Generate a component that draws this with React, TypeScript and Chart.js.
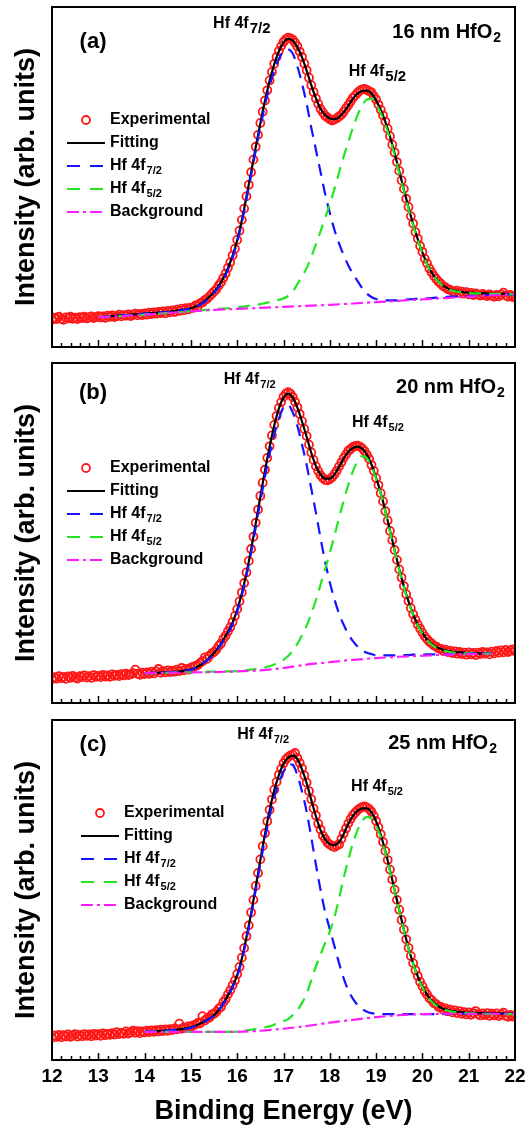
import { useEffect, useRef } from "react";
import { Chart, registerables } from "chart.js";

Chart.register(...registerables);

const FONT = '"Liberation Sans", Arial, Helvetica, sans-serif';

// ---------- axis ----------
const X_MIN = 12;
const X_MAX = 22;
const X_TICKS = [12, 13, 14, 15, 16, 17, 18, 19, 20, 21, 22];
const MINOR_STEP = 0.2;
const Y_MIN = 0;
const Y_MAX = 100;

// ---------- sampling of the series ----------
const EXP_START = 12;
const EXP_STEP = 0.05;
const FIT_STEP = 0.1;
const BG_STEP = 0.5;

const LABEL_EXP = "Experimental";
const LABEL_FIT = "Fitting";
const LABEL_P72 = "Hf 4f_7/2";
const LABEL_P52 = "Hf 4f_5/2";
const LABEL_BG = "Background";

// ---------- panel (a) 16 nm ----------
const A_EXP = [
  8.0, 8.6, 8.2, 8.9, 8.3, 8.0, 8.7, 8.4, 8.9, 8.3, 8.6, 8.2, 8.8, 8.5, 8.9, 8.4, 8.7, 9.0, 8.5, 8.8,
  9.1, 8.7, 9.0, 8.6, 9.2, 8.9, 9.3, 8.8, 9.1, 9.5, 9.0, 9.4, 9.2, 9.6, 9.1, 9.5, 9.8, 9.3, 9.7, 9.4,
  9.9, 9.5, 10.1, 9.7, 10.2, 9.8, 10.3, 10.0, 10.5, 9.9, 10.6, 10.2, 10.8, 10.3, 11.0, 10.6, 11.3, 10.8, 11.4, 11.1,
  11.6, 11.5, 12.2, 12.0, 12.9, 13.1, 13.8, 14.2, 14.9, 15.6, 16.3, 17.0, 18.1, 19.0, 20.3, 21.6, 23.3, 24.9, 26.9, 28.9,
  31.5, 34.2, 37.4, 40.7, 44.3, 47.7, 51.4, 55.1, 58.9, 62.4, 65.9, 69.2, 72.5, 75.5, 78.4, 80.9, 83.3, 85.3, 87.1, 88.5,
  89.7, 90.5, 91.0, 90.8, 90.4, 89.5, 88.4, 86.9, 85.3, 83.4, 81.4, 79.2, 77.0, 75.0, 73.1, 71.5, 70.0, 69.0, 68.0, 67.5,
  67.0, 66.6, 66.9, 67.3, 67.8, 68.3, 69.2, 70.2, 71.2, 72.2, 73.3, 74.0, 74.8, 75.4, 75.8, 75.9, 75.6, 75.2, 74.9, 73.8,
  72.8, 71.3, 69.8, 68.1, 66.3, 64.2, 62.0, 59.5, 57.2, 54.4, 51.8, 49.0, 46.5, 43.6, 41.2, 38.5, 36.3, 33.8, 31.9, 29.7,
  28.0, 26.0, 24.6, 23.1, 22.0, 20.9, 20.0, 19.2, 18.6, 17.9, 17.5, 17.0, 16.8, 16.4, 16.1, 16.6, 15.9, 16.3, 15.7, 16.1,
  15.5, 15.9, 15.3, 15.8, 15.4, 15.1, 15.6, 15.2, 15.0, 15.5, 15.1, 14.8, 15.3, 14.9, 15.4, 16.0, 15.2, 14.8, 15.3, 14.7,
  15.0,
];
const A_FIT_START = 13;
const A_FIT = [
  8.8, 8.9, 9.0, 9.1, 9.2, 9.3, 9.4, 9.5, 9.6, 9.7,
  9.8, 9.9, 10.0, 10.1, 10.2, 10.3, 10.5, 10.7, 10.9, 11.1,
  11.4, 11.9, 12.6, 13.6, 14.8, 16.2, 18.0, 20.2, 23.2, 26.8,
  31.4, 37.3, 44.2, 51.3, 58.8, 65.8, 72.4, 78.3, 83.2, 87.0,
  89.5, 90.6, 90.1, 88.2, 85.2, 81.3, 77.0, 73.1, 70.1, 68.2,
  67.2, 67.0, 67.6, 69.0, 71.0, 73.0, 74.5, 75.3, 75.4, 74.6,
  72.6, 69.7, 66.2, 61.9, 57.0, 51.7, 46.3, 41.0, 36.1, 31.7,
  27.8, 24.4, 21.9, 20.0, 18.6, 17.6, 16.9, 16.5, 16.3, 16.1,
  16.0, 15.9, 15.8, 15.8, 15.7, 15.7, 15.6, 15.6, 15.6, 15.5,
  15.5,
];
const A_P72 = [
  8.8, 8.9, 9.0, 9.1, 9.2, 9.3, 9.4, 9.5, 9.6, 9.7,
  9.8, 9.9, 10.0, 10.1, 10.2, 10.3, 10.4, 10.6, 10.8, 11.0,
  11.2, 11.7, 12.4, 13.3, 14.5, 15.9, 17.6, 19.8, 22.7, 26.3,
  30.8, 36.6, 43.4, 50.5, 57.8, 64.7, 71.1, 76.7, 81.3, 84.8,
  86.9, 87.5, 86.3, 82.5, 77.5, 71.5, 64.5, 58.0, 51.5, 45.0,
  39.5, 34.5, 30.5, 27.0, 24.0, 21.6, 19.4, 17.3, 15.7, 14.7,
  14.1, 13.8, 13.7, 13.7, 13.7, 13.8, 13.9, 14.0, 14.1, 14.2,
  14.3, 14.3, 14.4, 14.5, 14.6, 14.7, 14.8, 14.8, 14.9, 15.0,
  15.0, 15.1, 15.2, 15.2, 15.3, 15.3, 15.4, 15.4, 15.5, 15.5,
  15.5,
];
const A_P52 = [
  8.8, 8.9, 8.9, 9.0, 9.1, 9.1, 9.2, 9.3, 9.4, 9.4,
  9.5, 9.6, 9.7, 9.8, 9.9, 10.0, 10.1, 10.2, 10.3, 10.4,
  10.6, 10.7, 10.8, 10.9, 11.0, 11.1, 11.2, 11.3, 11.4, 11.5,
  11.6, 11.8, 12.0, 12.2, 12.4, 12.6, 12.9, 13.2, 13.5, 13.9,
  14.3, 15.0, 16.3, 18.5, 20.8, 23.2, 26.5, 30.2, 34.0, 38.0,
  42.0, 46.5, 51.3, 56.0, 60.3, 64.5, 68.2, 71.0, 72.8, 73.0,
  71.5, 68.8, 65.4, 61.2, 56.4, 51.2, 45.9, 40.6, 35.8, 31.4,
  27.6, 24.3, 21.8, 19.9, 18.5, 17.5, 16.8, 16.4, 16.2, 16.0,
  15.9, 15.8, 15.8, 15.7, 15.7, 15.6, 15.6, 15.6, 15.5, 15.5,
  15.5,
];
const A_BG = [8.8, 9.1, 9.5, 10.0, 10.5, 10.9, 11.2, 11.5, 11.8, 12.1, 12.4, 12.8, 13.2, 13.6, 14.0, 14.4, 14.8, 15.2, 15.5];

// ---------- panel (b) 20 nm ----------
const B_EXP = [
  7.0, 7.6, 7.2, 7.9, 7.3, 7.7, 7.1, 7.8, 7.4, 8.0, 7.5, 7.2, 7.9, 7.6, 8.1, 7.5, 7.9, 7.4, 8.2, 7.7,
  8.0, 7.6, 8.3, 7.8, 8.1, 7.7, 8.4, 8.0, 8.3, 7.9, 8.5, 8.1, 8.6, 8.2, 8.4, 8.8, 9.8, 8.6, 8.3, 8.9,
  8.5, 9.0, 8.6, 9.2, 8.7, 9.3, 10.0, 8.9, 9.4, 9.0, 9.6, 9.1, 9.5, 9.2, 9.8, 9.4, 10.3, 9.6, 10.0, 9.8,
  10.4, 10.6, 10.9, 11.2, 11.8, 12.3, 13.4, 13.0, 13.9, 14.6, 15.0, 15.7, 16.8, 17.5, 18.9, 19.8, 21.1, 22.3, 23.8, 25.6,
  27.6, 29.9, 32.5, 35.3, 38.4, 41.8, 45.3, 48.9, 53.0, 56.9, 60.9, 64.8, 68.6, 72.1, 75.5, 78.7, 81.8, 84.4, 86.8, 88.5,
  90.1, 91.0, 91.4, 91.0, 90.0, 88.6, 87.0, 85.0, 82.9, 80.6, 78.5, 76.0, 73.7, 71.5, 69.6, 68.2, 67.0, 66.2, 65.6, 65.5,
  65.8, 66.4, 67.3, 68.3, 69.6, 70.8, 72.1, 73.1, 74.2, 74.7, 75.3, 75.6, 75.7, 75.4, 74.9, 74.1, 73.0, 71.8, 70.0, 68.3,
  66.2, 64.1, 61.7, 59.3, 56.4, 53.7, 50.6, 47.9, 45.0, 42.1, 39.3, 36.9, 34.4, 32.0, 30.0, 27.9, 26.1, 24.5, 23.1, 21.9,
  20.7, 19.6, 18.8, 18.0, 17.5, 16.9, 16.6, 16.0, 15.9, 15.3, 15.7, 15.0, 15.4, 14.7, 15.2, 14.5, 15.0, 14.4, 14.8, 14.2,
  14.9, 14.3, 14.7, 14.1, 14.8, 14.4, 15.0, 14.5, 14.9, 14.3, 15.1, 14.6, 15.3, 14.8, 15.5, 14.9, 15.6, 15.0, 15.4, 15.8,
  15.2,
];
const B_FIT_START = 14;
const B_FIT = [
  8.8, 8.8, 8.9, 8.9, 9.0, 9.0, 9.1, 9.2, 9.4, 9.6,
  9.9, 10.4, 11.1, 12.1, 13.3, 14.7, 16.5, 18.6, 20.9, 23.6,
  27.4, 32.3, 38.2, 45.1, 52.8, 60.7, 68.4, 75.3, 81.6, 86.6,
  89.8, 91.0, 89.8, 86.9, 82.8, 78.3, 73.6, 69.7, 67.2, 66.0,
  66.0, 67.2, 69.4, 71.9, 73.9, 75.0, 75.4, 74.8, 73.1, 70.2,
  66.3, 61.8, 56.5, 50.7, 45.0, 39.3, 34.3, 29.9, 26.0, 23.0,
  20.6, 18.7, 17.4, 16.5, 15.9, 15.5, 15.2, 15.0, 14.9, 14.8,
  14.7, 14.7, 14.6, 14.6, 14.6, 14.6,
];
const B_P72 = [
  8.8, 8.8, 8.9, 8.9, 9.0, 9.0, 9.1, 9.2, 9.3, 9.5,
  9.8, 10.3, 11.0, 12.0, 13.1, 14.5, 16.2, 18.3, 20.5, 23.1,
  26.8, 31.6, 37.4, 44.1, 51.7, 59.3, 66.6, 73.2, 79.0, 83.6,
  86.9, 87.6, 85.5, 81.5, 76.0, 70.0, 63.0, 56.0, 48.5, 41.5,
  35.5, 30.5, 26.3, 23.0, 20.3, 18.2, 16.6, 15.5, 14.8, 14.4,
  14.0, 14.0, 14.0, 14.0, 14.0, 14.1, 14.1, 14.1, 14.2, 14.2,
  14.2, 14.3, 14.3, 14.3, 14.4, 14.4, 14.4, 14.5, 14.5, 14.5,
  14.5, 14.6, 14.6, 14.6, 14.6, 14.6,
];
const B_P52 = [
  8.8, 8.8, 8.8, 8.9, 8.9, 8.9, 8.9, 9.0, 9.0, 9.0,
  9.0, 9.1, 9.1, 9.1, 9.2, 9.2, 9.2, 9.3, 9.3, 9.3,
  9.4, 9.5, 9.6, 9.8, 10.0, 10.2, 10.5, 10.8, 11.3, 11.9,
  12.7, 13.8, 15.4, 17.4, 19.9, 22.7, 26.2, 30.3, 34.8, 39.4,
  44.2, 49.2, 54.5, 59.5, 64.2, 68.2, 71.2, 72.6, 72.0, 69.6,
  65.9, 61.5, 56.2, 50.4, 44.7, 39.0, 34.0, 29.6, 25.8, 22.8,
  20.4, 18.5, 17.2, 16.3, 15.7, 15.3, 15.0, 14.8, 14.7, 14.6,
  14.6, 14.5, 14.5, 14.5, 14.5, 14.5,
];
const B_BG = [8.8, 8.9, 9.0, 9.1, 9.3, 9.6, 10.3, 11.3, 12.0, 12.7, 13.2, 13.6, 13.9, 14.2, 14.4, 14.5];

// ---------- panel (c) 25 nm ----------
const C_EXP = [
  6.5, 7.2, 6.8, 7.4, 6.7, 7.3, 6.9, 7.5, 6.8, 7.2, 7.6, 6.9, 7.4, 7.0, 7.6, 7.1, 7.5, 7.0, 7.7, 7.2,
  7.6, 7.1, 7.8, 7.3, 7.7, 7.4, 7.9, 7.5, 8.2, 7.6, 8.0, 7.7, 8.4, 7.8, 8.1, 8.6, 8.0, 8.5, 7.9, 8.4,
  8.1, 8.6, 8.2, 8.7, 8.3, 8.8, 8.4, 8.9, 8.5, 9.0, 8.6, 9.1, 8.8, 9.3, 9.0, 10.7, 9.2, 9.6, 9.4, 9.9,
  9.7, 10.2, 10.4, 10.9, 10.8, 12.9, 11.6, 12.2, 12.5, 13.4, 13.6, 14.2, 15.1, 15.6, 17.0, 17.9, 19.3, 20.5, 22.0, 23.4,
  25.3, 27.4, 30.1, 32.9, 36.4, 39.6, 43.4, 47.1, 51.2, 55.0, 59.0, 62.9, 66.7, 70.2, 73.6, 76.6, 79.5, 81.8, 83.9, 85.7,
  87.3, 88.4, 89.1, 89.6, 89.8, 90.3, 88.8, 87.4, 85.8, 83.7, 81.6, 79.1, 76.7, 74.0, 71.9, 69.5, 67.8, 66.0, 65.0, 63.9,
  63.4, 62.9, 62.6, 63.1, 63.4, 65.0, 66.6, 68.1, 69.6, 70.9, 72.0, 72.8, 73.5, 74.0, 74.4, 74.6, 74.3, 73.8, 73.0, 71.8,
  70.3, 68.5, 66.4, 64.1, 61.5, 58.8, 56.0, 53.1, 50.1, 47.1, 44.2, 41.2, 38.4, 35.5, 33.0, 30.6, 28.5, 26.4, 24.7, 23.0,
  21.7, 20.3, 19.3, 18.2, 17.6, 16.7, 16.4, 15.6, 15.6, 14.8, 15.2, 14.3, 14.8, 14.0, 14.6, 13.8, 14.4, 13.6, 14.1, 13.4,
  14.0, 13.3, 13.8, 14.4, 13.5, 13.1, 13.7, 13.2, 13.8, 13.0, 13.6, 13.1, 13.7, 12.9, 13.4, 13.9, 13.0, 12.7, 13.3, 12.8,
  13.1,
];
const C_FIT_START = 14;
const C_FIT = [
  8.3, 8.4, 8.4, 8.5, 8.6, 8.7, 8.8, 8.9, 9.1, 9.3,
  9.6, 10.1, 10.7, 11.4, 12.2, 13.2, 14.7, 16.7, 19.0, 21.7,
  25.0, 29.8, 36.1, 43.1, 50.9, 58.8, 66.5, 73.4, 79.3, 83.8,
  87.1, 88.9, 89.5, 88.5, 85.5, 81.4, 76.5, 71.7, 67.6, 64.9,
  63.5, 63.2, 64.1, 66.5, 69.5, 71.8, 73.3, 74.0, 74.0, 72.8,
  70.2, 66.3, 61.4, 55.9, 50.0, 44.1, 38.3, 32.9, 28.4, 24.6,
  21.6, 19.2, 17.4, 16.2, 15.4, 14.9, 14.5, 14.3, 14.1, 14.0,
  13.9, 13.9, 13.8, 13.8, 13.8, 13.7, 13.7, 13.7, 13.6, 13.6,
  13.6,
];
const C_P72 = [
  8.3, 8.4, 8.4, 8.5, 8.6, 8.7, 8.8, 8.9, 9.0, 9.2,
  9.5, 10.0, 10.6, 11.3, 12.1, 13.1, 14.5, 16.5, 18.7, 21.4,
  24.6, 29.3, 35.5, 42.4, 50.0, 57.7, 65.1, 71.7, 77.2, 81.5,
  84.8, 87.0, 86.8, 83.8, 79.0, 73.0, 65.5, 57.5, 50.0, 43.5,
  38.5, 33.5, 28.5, 24.0, 20.5, 18.0, 16.2, 15.0, 14.2, 13.8,
  13.6, 13.5, 13.5, 13.5, 13.5, 13.5, 13.5, 13.5, 13.5, 13.5,
  13.5, 13.5, 13.5, 13.5, 13.5, 13.5, 13.6, 13.6, 13.6, 13.6,
  13.6, 13.6, 13.6, 13.6, 13.6, 13.6, 13.6, 13.6, 13.6, 13.6,
  13.6,
];
const C_P52 = [
  8.3, 8.3, 8.3, 8.3, 8.3, 8.3, 8.3, 8.3, 8.3, 8.3,
  8.3, 8.3, 8.3, 8.3, 8.3, 8.3, 8.3, 8.3, 8.3, 8.3,
  8.4, 8.5, 8.7, 8.9, 9.1, 9.3, 9.6, 9.9, 10.4, 10.9,
  11.4, 12.0, 13.2, 14.6, 16.8, 19.5, 23.5, 27.5, 31.0, 34.5,
  37.8, 42.0, 47.5, 53.5, 59.0, 63.8, 67.6, 70.3, 71.5, 71.0,
  68.9, 65.6, 61.0, 55.6, 49.8, 43.9, 38.1, 32.7, 28.2, 24.4,
  21.4, 19.0, 17.2, 16.0, 15.2, 14.7, 14.3, 14.1, 13.9, 13.8,
  13.7, 13.7, 13.6, 13.6, 13.6, 13.5, 13.5, 13.5, 13.5, 13.5,
  13.5,
];
const C_BG = [8.3, 8.3, 8.3, 8.3, 8.3, 8.6, 9.2, 10.0, 11.0, 11.8, 12.6, 13.2, 13.5, 13.6, 13.6, 13.6, 13.6];

// ---------- styles ----------
const RED = "#ff1717";
const BLUE = "#1414ff";
const GREEN = "#22e622";
const MAGENTA = "#ff1aff";
const PLOT_DASH = [12, 8];
const BG_DASH = [12, 4, 3, 4];

type Pos = { x: number; y: number };
type PanelCfg = {
  tag: string;
  thick: string;
  exp: number[];
  fitStart: number;
  fit: number[];
  p72: number[];
  p52: number[];
  bg: number[];
  top: number;
  height: number;
  padTop: number;
  padBottom: number;
  xAxisHeight: number;
  bottomAxis: boolean;
  tagPos: Pos;
  thickPos: Pos;
  p72Pos: Pos;
  p52Pos: Pos;
  peakSub: number;
  legendDx: number;
  legendDy: number;
};

const PANELS: PanelCfg[] = [
  {
    tag: "(a)", thick: "16 nm HfO_2", exp: A_EXP, fitStart: A_FIT_START, fit: A_FIT, p72: A_P72, p52: A_P52, bg: A_BG,
    top: 0, height: 355, padTop: 7, padBottom: 8, xAxisHeight: 0, bottomAxis: false,
    tagPos: { x: 12.886, y: 89.7 }, thickPos: { x: 21.7, y: 92.6 }, p72Pos: { x: 15.48, y: 95.0 }, p52Pos: { x: 18.41, y: 80.9 },
    peakSub: 0.95, legendDx: 0, legendDy: 113,
  },
  {
    tag: "(b)", thick: "20 nm HfO_2", exp: B_EXP, fitStart: B_FIT_START, fit: B_FIT, p72: B_P72, p52: B_P52, bg: B_BG,
    top: 355, height: 356, padTop: 8, padBottom: 8, xAxisHeight: 0, bottomAxis: false,
    tagPos: { x: 12.886, y: 91.2 }, thickPos: { x: 21.78, y: 92.9 }, p72Pos: { x: 15.71, y: 95.0 }, p52Pos: { x: 18.48, y: 82.4 },
    peakSub: 0.7, legendDx: 0, legendDy: 105,
  },
  {
    tag: "(c)", thick: "25 nm HfO_2", exp: C_EXP, fitStart: C_FIT_START, fit: C_FIT, p72: C_P72, p52: C_P52, bg: C_BG,
    top: 711, height: 417, padTop: 9, padBottom: 0, xAxisHeight: 68, bottomAxis: true,
    tagPos: { x: 12.886, y: 92.6 }, thickPos: { x: 21.61, y: 93.2 }, p72Pos: { x: 16.0, y: 95.6 }, p52Pos: { x: 18.46, y: 80.3 },
    peakSub: 0.7, legendDx: 14, legendDy: 93,
  },
];

function pts(start: number, step: number, vals: number[]) {
  return vals.map((v, i) => ({ x: Math.round((start + i * step) * 1000) / 1000, y: v }));
}

function drawRich(ctx: CanvasRenderingContext2D, text: string, x: number, y: number, size: number, align: string, subScale: number, subDrop: number) {
  const [main, sub] = text.split("_");
  ctx.font = `bold ${size}px ${FONT}`;
  const w1 = ctx.measureText(main).width;
  const ss = Math.round(size * subScale);
  let w2 = 0;
  if (sub) {
    ctx.font = `bold ${ss}px ${FONT}`;
    w2 = ctx.measureText(sub).width + 1;
  }
  const x0 = align === "right" ? x - w1 - w2 : align === "center" ? x - (w1 + w2) / 2 : x;
  ctx.textAlign = "left";
  ctx.textBaseline = "middle";
  ctx.font = `bold ${size}px ${FONT}`;
  ctx.fillText(main, x0, y);
  if (sub) {
    ctx.font = `bold ${ss}px ${FONT}`;
    ctx.fillText(sub, x0 + w1 + 1, y + subDrop);
  }
}

const decorPlugin = {
  id: "decor",
  afterDraw(chart: any, _args: any, o: any) {
    const { ctx, chartArea: a, scales } = chart;
    const xs = scales.x;
    const ys = scales.y;
    ctx.save();
    ctx.setLineDash([]);
    ctx.strokeStyle = "#000";
    ctx.lineWidth = 2;
    ctx.strokeRect(a.left, a.top, a.right - a.left, a.bottom - a.top);
    // inward ticks
    ctx.lineWidth = 1.5;
    const n = Math.round((X_MAX - X_MIN) / MINOR_STEP);
    for (let i = 1; i < n; i++) {
      const v = X_MIN + i * MINOR_STEP;
      const px = Math.round(xs.getPixelForValue(v)) + 0.5;
      const major = i % 5 === 0;
      ctx.beginPath();
      ctx.moveTo(px, a.bottom);
      ctx.lineTo(px, a.bottom - (major ? 7 : 4));
      ctx.stroke();
    }
    // texts
    ctx.fillStyle = "#000";
    drawRich(ctx, o.tag, xs.getPixelForValue(o.tagPos.x), ys.getPixelForValue(o.tagPos.y), 22, "center", 0.7, 6);
    drawRich(ctx, o.thick, xs.getPixelForValue(o.thickPos.x), ys.getPixelForValue(o.thickPos.y), 20, "right", 0.7, 6);
    drawRich(ctx, LABEL_P72, xs.getPixelForValue(o.p72Pos.x), ys.getPixelForValue(o.p72Pos.y), 16, "left", o.peakSub, 5);
    drawRich(ctx, LABEL_P52, xs.getPixelForValue(o.p52Pos.x), ys.getPixelForValue(o.p52Pos.y), 16, "left", o.peakSub, 5);
    // legend
    const lx = a.left + o.legendDx;
    chart.data.datasets.forEach((ds: any, i: number) => {
      const yy = a.top + o.legendDy + i * 23;
      if (ds.showLine === false) {
        ctx.setLineDash([]);
        ctx.strokeStyle = ds.pointBorderColor;
        ctx.lineWidth = 1.8;
        ctx.beginPath();
        ctx.arc(lx + 34, yy, 4, 0, Math.PI * 2);
        ctx.stroke();
      } else {
        ctx.strokeStyle = ds.borderColor;
        ctx.lineWidth = 2.2;
        ctx.setLineDash(ds.legendDash || []);
        ctx.beginPath();
        ctx.moveTo(lx + 15, yy);
        ctx.lineTo(lx + 53, yy);
        ctx.stroke();
      }
      ctx.setLineDash([]);
      ctx.fillStyle = "#000";
      drawRich(ctx, ds.label, lx + 58, yy, 16, "left", 0.7, 5);
    });
    ctx.restore();
  },
};

function Panel({ cfg }: { cfg: PanelCfg }) {
  const ref = useRef<HTMLCanvasElement | null>(null);
  useEffect(() => {
    if (!ref.current) return;
    const lineBase = { pointRadius: 0, borderWidth: 2.2, fill: false, cubicInterpolationMode: "monotone", borderCapStyle: "butt" };
    const chart = new Chart(ref.current, {
      type: "line",
      data: {
        datasets: [
          {
            label: LABEL_EXP, data: pts(EXP_START, EXP_STEP, cfg.exp), showLine: false,
            pointRadius: 4, pointBorderWidth: 1.8, pointBorderColor: RED, pointBackgroundColor: "rgba(0,0,0,0)", borderColor: RED, order: 5,
          },
          { ...lineBase, label: LABEL_FIT, data: pts(cfg.fitStart, FIT_STEP, cfg.fit), borderColor: "#000", order: 4 },
          { ...lineBase, label: LABEL_P72, data: pts(cfg.fitStart, FIT_STEP, cfg.p72), borderColor: BLUE, borderDash: PLOT_DASH, legendDash: [13, 10], order: 3 },
          { ...lineBase, label: LABEL_P52, data: pts(cfg.fitStart, FIT_STEP, cfg.p52), borderColor: GREEN, borderDash: PLOT_DASH, legendDash: [13, 10], order: 2 },
          { ...lineBase, label: LABEL_BG, data: pts(cfg.fitStart, BG_STEP, cfg.bg), borderColor: MAGENTA, borderDash: BG_DASH, legendDash: [12, 4, 3, 4], cubicInterpolationMode: "default", tension: 0.3, order: 1 },
        ] as any,
      },
      options: {
        responsive: false,
        maintainAspectRatio: false,
        animation: false,
        devicePixelRatio: 1,
        events: [],
        layout: { padding: { top: cfg.padTop, bottom: cfg.padBottom, left: 0, right: 17 } },
        plugins: {
          legend: { display: false },
          tooltip: { enabled: false },
          decor: {
            tag: cfg.tag, thick: cfg.thick, tagPos: cfg.tagPos, thickPos: cfg.thickPos,
            p72Pos: cfg.p72Pos, p52Pos: cfg.p52Pos, peakSub: cfg.peakSub, legendDx: cfg.legendDx, legendDy: cfg.legendDy,
          },
        } as any,
        scales: {
          x: {
            type: "linear", min: X_MIN, max: X_MAX,
            grid: { display: false, drawTicks: false },
            border: { display: false },
            afterBuildTicks: (s: any) => { s.ticks = X_TICKS.map((v) => ({ value: v })); },
            ticks: {
              display: cfg.bottomAxis, autoSkip: false, maxRotation: 0, padding: 5, color: "#000",
              font: { family: FONT, size: 19, weight: "bold" },
              callback: (v: any) => String(v),
            },
            title: {
              display: cfg.bottomAxis, text: "Binding Energy (eV)", color: "#000",
              font: { family: FONT, size: 27, weight: "bold" }, padding: { top: 0, bottom: 0 },
            },
            afterFit: (s: any) => { s.height = cfg.xAxisHeight; },
          },
          y: {
            type: "linear", min: Y_MIN, max: Y_MAX,
            grid: { display: false, drawTicks: false },
            border: { display: false },
            ticks: { display: false },
            title: {
              display: true, text: "Intensity (arb. units)", color: "#000",
              font: { family: FONT, size: 27, weight: "bold" }, padding: { top: 10, bottom: 0 },
            },
            afterFit: (s: any) => { s.width = 52; },
          },
        } as any,
      },
      plugins: [decorPlugin as any],
    });
    return () => chart.destroy();
  }, [cfg]);
  return (
    <canvas
      ref={ref}
      width={532}
      height={cfg.height}
      style={{ position: "absolute", left: 0, top: cfg.top, width: 532, height: cfg.height, display: "block" }}
    />
  );
}

export default function App() {
  return (
    <div style={{ position: "absolute", left: 0, top: 0, width: 532, height: 1128, background: "#fff", overflow: "hidden" }}>
      {PANELS.map((p) => (
        <Panel key={p.tag} cfg={p} />
      ))}
    </div>
  );
}
